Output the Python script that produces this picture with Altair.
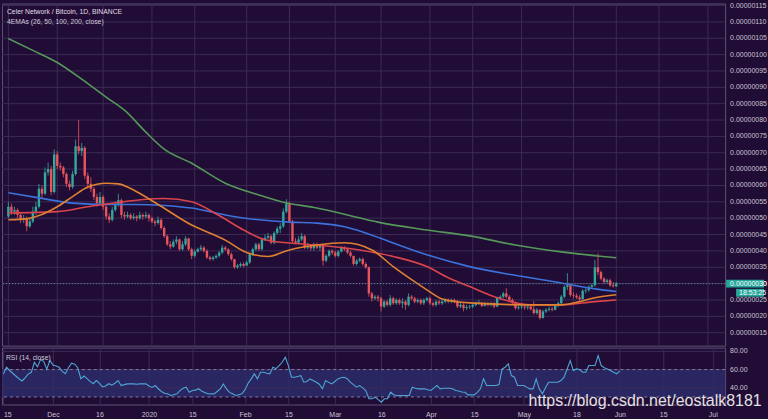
import altair as alt
import pandas as pd

# ---------------- data (prices in satoshi = 1e-8 BTC; day 0 = 2019-12-01) ----------------
first_day = -16          # 2019-11-15
first_open = 50.5

closes = [
    53.5, 52, 52.5, 51, 49.5, 50, 47.5, 49, 52, 53.5,
    59, 57.5, 64, 65, 58, 69.5, 66, 65.5, 63.5, 60.5,
    59.5, 63.5, 72, 70.5, 71.5, 63, 60.5, 59, 56.5, 54.5,
    56.5, 53.5, 50.5, 49.5, 52.5, 54, 55.5, 51, 50.5, 51,
    50, 50.5, 50, 51, 50.5, 51, 50, 49, 48.5, 49.5,
    47, 44.5, 42, 41.3, 42.8, 43.5, 40.5, 42, 43.8, 40.5,
    38.5, 39.8, 40.5, 41, 40, 38, 37.5, 38, 38.5, 39.5,
    41, 40.5, 39, 37.5, 35, 35.5, 36, 35.5, 36.5, 39,
    40.5, 42, 40.5, 43.5, 44, 44.5, 42.5, 45.5, 46.8, 47.5,
    52, 54.5, 49, 43, 42.5, 43.5, 44.5, 41, 41.5, 40.8,
    42, 41, 41.5, 37, 38.5, 40, 39.5, 38.5, 39.8, 41,
    40.5, 39.5, 38.5, 36, 37, 37.5, 36, 35, 27, 25.5,
    26, 25.5, 23, 24.5, 23.5, 25.5, 24, 25, 24, 24.5,
    23.5, 26, 25.5, 24.5, 25, 24, 25, 25.5, 24, 23.5,
    24.5, 24, 24.5, 25, 24.5, 25, 24.5, 23, 23.5, 22.5,
    22.8, 23, 23.5, 24, 24.2, 23.2, 24, 23.5, 24, 23,
    25.6, 26, 27, 26, 25, 24.2, 22.5, 22.8, 23, 22.7,
    23, 22.2, 21, 22, 19.5, 21.5, 22, 22.3, 22, 23.3,
    24, 26, 29, 29.5, 26.5, 26.3, 25.8, 25.2, 27.8, 28,
    29, 29.5, 35, 33.5, 31.5, 30.5, 31, 29.5, 29.2, 30,
]
highs = [
    55, 54.5, 53.5, 53, 51.5, 51, 50.5, 50, 53.5, 55,
    60.5, 60, 65.5, 67, 66, 71, 70.5, 67, 66, 64,
    61.5, 64.5, 74, 80, 73, 72, 64, 62.5, 59.5, 57.5,
    58, 57, 54, 51.5, 53.5, 55, 57.5, 56, 52, 52,
    51.5, 51.5, 51, 52, 51.5, 52, 51.5, 50.5, 49.5, 50.5,
    50, 47.5, 45, 43, 43.5, 44.5, 43.8, 43, 44.5, 44,
    41, 40.5, 41, 41.8, 41.5, 40.5, 38.5, 38.5, 39, 40,
    41.8, 41.5, 40.8, 39.5, 37.5, 36, 36.5, 36.5, 37, 39.5,
    41, 42.5, 42.5, 44, 45, 45.5, 45, 46, 47.5, 48.5,
    53, 55.8, 55, 49.5, 44, 44.5, 45.5, 45, 42.5, 42,
    42.5, 42.5, 42, 41.8, 39, 40.5, 40.5, 40, 40.2, 41.5,
    41.5, 41, 40, 38.5, 37.5, 38, 38, 36.5, 35.2, 27.5,
    26.5, 26.5, 26, 25, 25, 26.5, 26, 25.5, 25.5, 25.5,
    25, 27, 26.5, 26, 25.5, 25.5, 25.5, 26, 26, 24.5,
    25, 25, 25, 25.5, 25.5, 25.5, 25.5, 25, 24.5, 24,
    23.5, 23.5, 24, 24.5, 25, 24.5, 24.5, 24.5, 24.5, 24.5,
    26, 26.5, 27.5, 28.6, 26.5, 25.5, 24.5, 23.3, 23.5, 23.5,
    23.5, 23.3, 24.6, 22.5, 22.2, 22, 22.5, 23, 23, 23.8,
    24.5, 26.5, 29.5, 33.2, 30, 27.3, 27, 26.5, 28.3, 28.8,
    29.5, 30, 37.3, 39.3, 34, 32, 31.5, 31.5, 30.5, 30.5,
]
lows = [
    50, 51, 51, 50, 48.5, 48.5, 46, 47, 48.5, 51,
    53, 56, 57, 63, 57, 57.5, 65, 64.5, 62.5, 59.5,
    58.5, 59, 63, 69.5, 69, 62, 59, 58, 55.5, 53.5,
    54, 52.5, 49.5, 48.5, 49, 52, 53.5, 50, 49.5, 50,
    49.5, 49.5, 49, 49.5, 49.5, 50, 49, 48.5, 47.5, 48,
    46.5, 44, 41.5, 40.5, 41, 42, 40, 40, 41.5, 40,
    37.5, 38, 39.5, 40, 39.5, 37.5, 37, 37, 37.5, 38,
    39, 40, 38.5, 37, 34.5, 34.5, 35, 35, 35.5, 36,
    38.5, 40, 40, 40, 43, 43.5, 42, 42, 45, 45.5,
    47, 51.5, 48.5, 42.5, 42, 42, 43, 40.5, 40.5, 40,
    40, 40.5, 40, 35.5, 36.5, 38, 38.8, 38, 38, 39.5,
    40, 39, 38, 35.5, 35.5, 36.5, 35.5, 34.5, 26, 24.5,
    25, 24.5, 21.5, 22.5, 23, 23, 23.5, 23.5, 23.5, 22.5,
    22, 23, 25, 24, 24, 23.5, 23.5, 24.5, 23.5, 23,
    23, 23.5, 23.5, 24, 24, 24, 24, 22.5, 22.5, 21.5,
    22, 22.3, 22.5, 23, 23.5, 22.8, 23, 23, 23, 22.5,
    22.8, 25, 25.5, 25.5, 24.5, 23.5, 22, 22, 22.3, 22,
    22, 21.8, 20.5, 20.5, 19, 19.3, 21, 21.5, 21.5, 21.8,
    22.8, 23.5, 25.5, 28, 26, 25.5, 25.3, 24.8, 25, 27,
    27.5, 28.5, 29, 32.5, 31, 30, 30, 29, 28.8, 29,
]

# EMA curves (day offset, price in sat)
ema26_days = [-16, -10, -6, 0, 5, 10, 16, 20, 26, 32, 44, 55, 62, 69, 76, 85, 94, 103,
              110, 116, 121, 126, 135, 155, 165, 171, 176, 183]
ema26_vals = [49.5, 49.8, 50.8, 53.5, 56.6, 59.5, 60.7, 60.5, 58.1, 54.8, 47.9, 43.3, 39.5,
              38.3, 40.3, 41.8, 42.5, 40.3, 35.2, 31.2, 28.1, 25.3, 24.1, 23.5, 23.5, 24.5, 25.7, 26.6]
ema50_days = [-16, 0, 10, 26, 35, 44, 53, 61, 68, 76, 85, 99, 110, 121, 128, 135, 144, 155,
              165, 176, 183]
ema50_vals = [51.6, 52, 53.5, 55.5, 56, 55, 50.8, 46.4, 43.4, 42.4, 41.8, 40.3, 38.3, 35.2,
              31.8, 29.1, 25.7, 23.5, 23.5, 24.5, 25]
ema100_days = [-16, -6, 5, 16, 26, 35, 44, 55, 66, 76, 85, 94, 100, 110, 121, 135, 149, 165, 176, 183]
ema100_vals = [57.8, 56.2, 54.6, 54.2, 54.2, 53.9, 53.1, 51, 49.5, 48.8, 48.5, 47.4, 45.8, 42.4,
               38.8, 35.2, 32.7, 30.2, 28.4, 27.6]
ema200_days = [-16, -8, 0, 8, 16, 22, 29, 35, 44, 55, 66, 74, 85, 95, 105, 121, 135, 150, 165, 183]
ema200_vals = [104.9, 101.3, 97.6, 92.5, 87, 83, 76.3, 71.1, 66.8, 60.7, 57.1, 54.9, 53.1, 51,
               48.8, 46.4, 44.6, 41.8, 39.7, 37.9]

# RSI(14) one value per candle
rsi_vals = [
    55, 62.5, 59, 56, 53, 50, 47.5, 51, 55, 57,
    68, 63, 71, 69, 60.5, 70, 65, 64, 62.5, 58,
    55.5, 62, 67, 66, 62, 50, 53, 50, 47, 44.5,
    48, 45, 41, 42, 44.5, 43, 45, 48, 42.5, 43.5,
    44.3, 44.3, 44.3, 44, 44.3, 44.3, 44.3, 42, 40.5, 42.5,
    39, 36, 34, 33.5, 31.6, 32.5, 33.4, 37, 39.5, 40.7,
    35.2, 37, 37.5, 39, 36.5, 35, 33.5, 33.4, 33.4, 36,
    38.9, 44.3, 38.9, 35, 33.4, 31.6, 32.5, 33.4, 38, 45,
    49.8, 55.3, 49.8, 57.1, 57.1, 56, 55.3, 62.6, 61, 64.4,
    68, 73.5, 64.4, 51.6, 51.6, 52.5, 53.4, 46.2, 47, 49.8,
    48, 46.2, 44, 38.9, 48, 46, 44.3, 47, 49.8, 51,
    51.6, 50, 46.2, 43.5, 40.7, 42.5, 40, 37.1, 28, 28,
    29.8, 27, 24.3, 28, 28, 35.2, 32.5, 31.6, 31.6, 31.6,
    31.6, 31.6, 40.7, 39.5, 38.9, 38.9, 38.9, 38, 37.1, 40,
    42.5, 38.9, 39.6, 39.6, 39.6, 39, 37.1, 36.5, 35.5, 35.2,
    32.3, 32.3, 32.3, 35, 38.9, 49.8, 42.5, 42.5, 42.5, 42.5,
    43.5, 60.7, 62.6, 66.2, 53.4, 51.6, 42.5, 42.5, 42.5, 40.5,
    38.9, 38.9, 49.8, 38.9, 33.4, 40, 46.2, 46.2, 46.2, 46.2,
    48, 51.6, 60.7, 69.8, 58.9, 60.7, 60, 57.1, 57.1, 64.4,
    64.4, 64.4, 75.3, 64.4, 62, 60.7, 58.9, 57, 55.3, 58.5,
]
rsi_levels = [30, 60]

tick_days = [-16, 0, 15, 31, 45, 62, 76, 91, 106, 122, 136, 152, 169, 183, 197, 213]
tick_labels = ["15", "Dec", "16", "2020", "15", "Feb", "15", "Mar", "16", "Apr", "15",
               "May", "18", "Jun", "15", "Jul"]
price_ticks = [15, 20, 25, 30, 35, 40, 45, 50, 55, 60, 65, 70, 75, 80, 85, 90, 95, 100, 105, 110, 115]
rsi_ticks = [40, 60, 80]

title_1 = "Celer Network / Bitcoin, 1D, BINANCE"
title_2 = "4EMAs (26, 50, 100, 200, close)"
rsi_title = "RSI (14, close)"
clock_text = "18:53:25"
watermark = "https://blog.csdn.net/eostalk8181"

# ---------------- tables ----------------
rows = []
prev = first_open
for i, (c, h, l) in enumerate(zip(closes, highs, lows)):
    o = prev
    rows.append({"day": first_day + i, "open": o, "close": c,
                 "high": max(h, o, c), "low": min(l, o, c),
                 "dir": "up" if c >= o else "down"})
    prev = c
candles = pd.DataFrame(rows)

ema = pd.concat([
    pd.DataFrame({"day": ema200_days, "value": ema200_vals, "ema": "EMA 200"}),
    pd.DataFrame({"day": ema100_days, "value": ema100_vals, "ema": "EMA 100"}),
    pd.DataFrame({"day": ema50_days, "value": ema50_vals, "ema": "EMA 50"}),
    pd.DataFrame({"day": ema26_days, "value": ema26_vals, "ema": "EMA 26"}),
])
rsi = pd.DataFrame({"day": [first_day + i for i in range(len(rsi_vals))], "rsi": rsi_vals})
levels = pd.DataFrame({"lvl": rsi_levels})
pticks = pd.DataFrame({"p": price_ticks, "lab": [f"{p / 1e8:.8f}" for p in price_ticks]})
rticks = pd.DataFrame({"r": rsi_ticks, "lab": [f"{r:.2f}" for r in rsi_ticks]})
xticks = pd.DataFrame({"day": tick_days})
one = pd.DataFrame({"a": [0]})
last_price = closes[-1]
price_text = f"{last_price / 1e8:.8f}"

# ---------------- style ----------------
BG = "#210c35"
GRID = "#3b2b56"
BORDER = "#5d5374"
LABEL = "#c8c3d4"
FONT = "Liberation Sans"
UP, DOWN = "#33a99d", "#e8565d"

W = 725
H_TOP = 343
xscale = alt.Scale(domain=[-16.46, 217.0], nice=False, zero=False)
yscale = alt.Scale(domain=[11.04, 115.61], nice=False, zero=False)
rscale = alt.Scale(domain=[21.75, 84.04], nice=False, zero=False)
label_expr = "[" + ",".join(f"'{t}'" for t in tick_labels) + "][indexof([" + \
    ",".join(str(d) for d in tick_days) + "], datum.value)]"

dir_color = alt.Color("dir:N", scale=alt.Scale(domain=["up", "down"], range=[UP, DOWN]), legend=None)

# grid lines + right-hand price labels
vgrid = alt.Chart(xticks).mark_rule(color=GRID, strokeWidth=1).encode(
    x=alt.X("day:Q", scale=xscale, axis=None),
)
pgrid = alt.Chart(pticks).mark_rule(color=GRID, strokeWidth=1).encode(
    y=alt.Y("p:Q", scale=yscale, axis=None),
)
plabels = alt.Chart(pticks).mark_text(font=FONT, fontSize=7, color=LABEL, align="left",
                                      baseline="middle").encode(
    x=alt.value(W + 5),
    y=alt.Y("p:Q", scale=yscale, axis=None),
    text="lab:N",
)
wicks = alt.Chart(candles).mark_rule(strokeWidth=0.8).encode(
    x=alt.X("day:Q", scale=xscale, axis=None),
    y=alt.Y("low:Q", scale=yscale, axis=None),
    y2="high:Q",
    color=dir_color,
)
bodies = alt.Chart(candles).mark_bar(size=2.4).encode(
    x=alt.X("day:Q", scale=xscale, axis=None),
    y=alt.Y("open:Q", scale=yscale, axis=None),
    y2="close:Q",
    color=dir_color,
)
lines = alt.Chart(ema).mark_line(interpolate="monotone", strokeWidth=1.6).encode(
    x=alt.X("day:Q", scale=xscale, axis=None),
    y=alt.Y("value:Q", scale=yscale, axis=None),
    color=alt.Color("ema:N", scale=alt.Scale(
        domain=["EMA 26", "EMA 50", "EMA 100", "EMA 200"],
        range=["#de8131", "#d9454b", "#3b72dc", "#55985a"]), legend=None),
    detail="ema:N",
)
price_line = alt.Chart(one).mark_rule(strokeDash=[1, 2], color="#5f97a6", strokeWidth=1).encode(
    y=alt.YDatum(last_price, type="quantitative", scale=yscale, axis=None),
)
price_box = alt.Chart(one).mark_rect(color="#26a69a").encode(
    x=alt.value(W + 1), x2=alt.value(W + 39),
    y=alt.YDatum(last_price + 1.15, type="quantitative", scale=yscale, axis=None),
    y2=alt.Y2Datum(last_price - 1.15),
)
price_lbl = alt.Chart(one).mark_text(text=price_text, font=FONT, fontSize=7, color="white",
                                     align="left", baseline="middle").encode(
    x=alt.value(W + 5),
    y=alt.YDatum(last_price, type="quantitative", scale=yscale, axis=None),
)
clock_box = alt.Chart(one).mark_rect(color="#26a69a").encode(
    x=alt.value(W + 11), x2=alt.value(W + 39),
    y=alt.YDatum(last_price - 1.6, type="quantitative", scale=yscale, axis=None),
    y2=alt.Y2Datum(last_price - 4.0),
)
clock_lbl = alt.Chart(one).mark_text(text=clock_text, font=FONT, fontSize=7, color="white",
                                     align="left", baseline="middle").encode(
    x=alt.value(W + 14),
    y=alt.YDatum(last_price - 2.8, type="quantitative", scale=yscale, axis=None),
)
t1 = alt.Chart(one).mark_text(text=title_1, font=FONT, fontSize=6.8, color="#e2dee9",
                              align="left", baseline="middle").encode(x=alt.value(5), y=alt.value(8.7))
t2 = alt.Chart(one).mark_text(text=title_2, font=FONT, fontSize=6.8, color="#cfcad9",
                              align="left", baseline="middle").encode(x=alt.value(5), y=alt.value(18.7))

top = alt.layer(vgrid, pgrid, wicks, bodies, lines, price_line, plabels, price_box, price_lbl,
                clock_box, clock_lbl, t1, t2
                ).resolve_scale(color="independent").properties(width=W, height=H_TOP)

# ---------------- RSI pane ----------------
band = alt.Chart(one).mark_rect(color="#2c2b68", opacity=0.85).encode(
    y=alt.YDatum(rsi_levels[0], type="quantitative", scale=rscale, axis=None),
    y2=alt.Y2Datum(rsi_levels[1]),
)
rgrid = alt.Chart(rticks).mark_rule(color=GRID, strokeWidth=1).encode(
    y=alt.Y("r:Q", scale=rscale, axis=None),
)
rlabels = alt.Chart(rticks).mark_text(font=FONT, fontSize=7, color=LABEL, align="left",
                                      baseline="middle").encode(
    x=alt.value(W + 5),
    y=alt.Y("r:Q", scale=rscale, axis=None),
    text="lab:N",
)
rsi_line = alt.Chart(rsi).mark_line(color="#4ea5d6", strokeWidth=1.1).encode(
    x=alt.X("day:Q", scale=xscale, axis=alt.Axis(
        values=tick_days, labelExpr=label_expr, grid=True, gridColor=GRID, ticks=False,
        domain=False, title=None, labelPadding=6, labelFlush=3)),
    y=alt.Y("rsi:Q", scale=rscale, axis=None),
)
lvl_rules = alt.Chart(levels).mark_rule(strokeDash=[3, 3], color="#8b86a8", strokeWidth=0.9).encode(
    y=alt.Y("lvl:Q", scale=rscale, axis=None),
)
rsi_t = alt.Chart(one).mark_text(text=rsi_title, font=FONT, fontSize=6.8, color="#cfcad9",
                                 align="left", baseline="middle").encode(x=alt.value(4), y=alt.value(10.7))
wm = alt.Chart(one).mark_text(text=watermark, font=FONT, fontSize=16, color="#f2f2f6", opacity=0.92,
                              align="left", baseline="middle").encode(x=alt.value(528), y=alt.value(54))

bottom = alt.layer(band, rgrid, lvl_rules, rsi_line, rlabels, rsi_t, wm).properties(width=W, height=57)

chart = alt.vconcat(top, bottom, spacing=0).properties(
    background=BG,
    padding={"left": 0, "right": 0, "top": 0, "bottom": 0},
).configure_view(
    stroke=BORDER, strokeWidth=1,
).configure_axis(
    labelFont=FONT, labelFontSize=7, labelColor=LABEL, gridWidth=1,
)

chart.save("out.html", embed_options={"renderer": "svg", "actions": False})
